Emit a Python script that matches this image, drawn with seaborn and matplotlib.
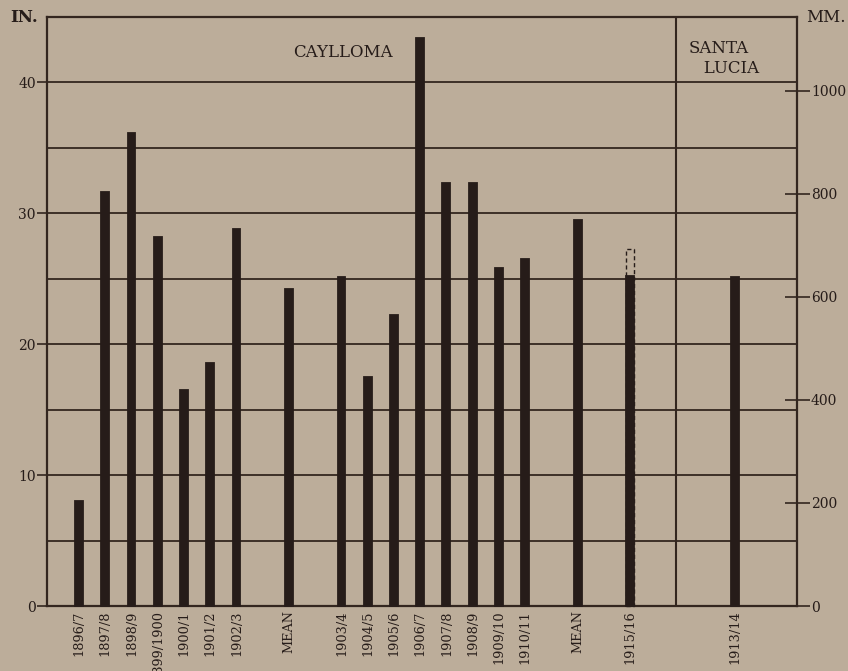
import pandas as pd
import matplotlib
matplotlib.use("Agg")
import matplotlib.pyplot as plt
from matplotlib.ticker import MultipleLocator
import seaborn as sns

# ─── DATA: seasonal rainfall, inches ──────────────────────
caylloma_seasons_a = ["1896/7", "1897/8", "1898/9", "1899/1900", "1900/1", "1901/2", "1902/3"]
caylloma_rain_a = [8.0, 31.6, 36.1, 28.2, 16.5, 18.6, 28.8]
caylloma_mean_a = 24.2

caylloma_seasons_b = ["1903/4", "1904/5", "1905/6", "1906/7", "1907/8", "1908/9", "1909/10", "1910/11"]
caylloma_rain_b = [25.1, 17.5, 22.2, 43.4, 32.3, 32.3, 25.8, 26.5]
caylloma_mean_b = 29.5

late_season = "1915/16"
late_rain = 25.2
late_rain_upper = 27.3      # dashed (uncertain) part of the bar

santa_lucia_season = "1913/14"
santa_lucia_rain = 25.1

# ─── STYLE ────────────────────────────────────────────────
PAPER = "#bcad9a"
INK = "#33261f"
BAR = "#261c19"

sns.set_style("white")
plt.rcParams["font.family"] = ["DejaVu Serif", "Liberation Serif"]
plt.rcParams["text.color"] = BAR
plt.rcParams["xtick.color"] = INK
plt.rcParams["ytick.color"] = INK
plt.rcParams["xtick.labelcolor"] = BAR
plt.rcParams["ytick.labelcolor"] = BAR

# ─── BUILD SLOT ORDER (blank slots between groups) ────────
rows = []
order = []
labels = []
gap_n = [0]


def add(key, label, value=None):
    order.append(key)
    labels.append(label)
    if value is not None:
        rows.append({"key": key, "rain": value})


def gap(n=1):
    for _ in range(n):
        gap_n[0] += 1
        add(f"_gap{gap_n[0]}", "")


for s, v in zip(caylloma_seasons_a, caylloma_rain_a):
    add(s, s, v)
gap()
add("mean_a", "MEAN", caylloma_mean_a)
gap()
for s, v in zip(caylloma_seasons_b, caylloma_rain_b):
    add(s, s, v)
gap()
add("mean_b", "MEAN", caylloma_mean_b)
gap()
add(late_season, late_season, late_rain)
gap(3)
add(santa_lucia_season, santa_lucia_season, santa_lucia_rain)

df = pd.DataFrame(rows)
df_upper = pd.DataFrame({"key": [late_season], "rain": [late_rain_upper]})

# ─── PLOT ─────────────────────────────────────────────────
fig = plt.figure(figsize=(8.48, 6.71), dpi=100, facecolor=PAPER)
ax = fig.add_axes([47 / 848, 1 - 606 / 671, 750 / 848, 589 / 671])
ax.set_facecolor(PAPER)

sns.barplot(data=df, x="key", y="rain", order=order, color=BAR,
            saturation=1, width=0.3, errorbar=None, edgecolor=BAR,
            linewidth=1.3, ax=ax, zorder=3)
# dashed outline drawn on top: invisible over the solid part
sns.barplot(data=df_upper, x="key", y="rain", order=order, fill=False,
            color=BAR, width=0.28, errorbar=None, linestyle=(0, (3, 2)),
            linewidth=1.0, ax=ax, zorder=4)
for p in ax.patches:
    p.set_clip_on(False)

ylim = (0, 45)
ax.set_ylim(*ylim)
ax.set_xlim(-1.22, len(order) - 1 + 2.36)

ax.set_yticks([0, 10, 20, 30, 40])
ax.yaxis.set_minor_locator(MultipleLocator(5))
ax.grid(axis="y", which="both", color=INK, linewidth=1.3)
ax.set_axisbelow(True)
ax.tick_params(axis="y", which="major", direction="out", length=7, width=1.2,
               pad=1, labelsize=10)
ax.tick_params(axis="y", which="minor", length=0)

ax.set_xticks(range(len(order)))
ax.set_xticklabels(labels, rotation=90, fontsize=9.3)
ax.tick_params(axis="x", length=0, pad=3)
for t in ax.get_xticklabels():
    t.set_va("top")
ax.set_xlabel("")
ax.set_ylabel("")

for sp in ax.spines.values():
    sp.set_visible(True)
    sp.set_color(INK)
    sp.set_linewidth(1.6)

# Santa Lucia separator
ax.axvline(order.index(late_season) + 1.75, color=INK, linewidth=1.5)

# right-hand millimetre scale
ax2 = ax.twinx()
ax2.set_ylim(ylim[0] * 25.4, ylim[1] * 25.4)
ax2.set_yticks(range(0, 1001, 200))
ax2.tick_params(axis="y", direction="inout", length=18, width=1.2, pad=1,
                labelsize=10)
for sp in ax2.spines.values():
    sp.set_visible(False)

ax.text(0.395, 0.94, "CAYLLOMA", transform=ax.transAxes, ha="center",
        va="center", fontsize=12)
ax.text(0.855, 0.93, "SANTA\n   LUCIA", transform=ax.transAxes, ha="left",
        va="center", fontsize=12, linespacing=1.2)
fig.text(10 / 848, 1 - 18 / 671, "IN.", fontsize=12, va="center",
         fontweight="bold")
fig.text(806 / 848, 1 - 18 / 671, "MM.", fontsize=12, va="center")

fig.savefig("out.png", dpi=100, facecolor=PAPER)
